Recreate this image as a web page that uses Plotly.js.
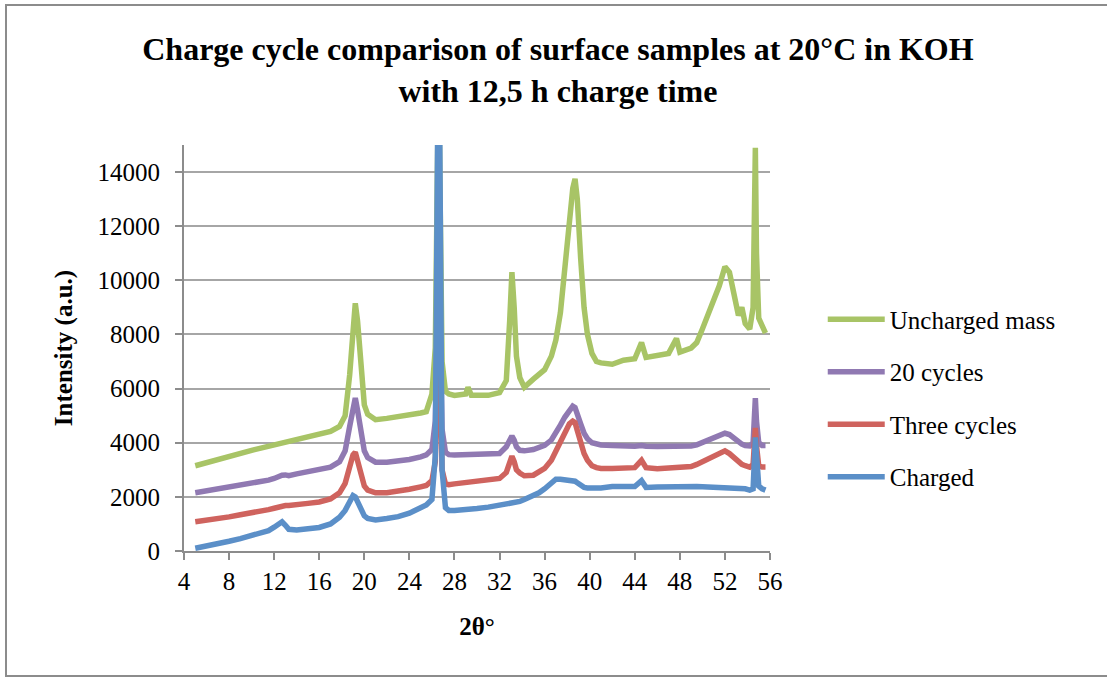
<!DOCTYPE html>
<html>
<head>
<meta charset="utf-8">
<script src="https://cdn.plot.ly/plotly-3.0.1.min.js"></script>
<style>
html,body{margin:0;padding:0;background:#fff;}
#wrap{position:relative;width:1107px;height:679px;overflow:hidden;}
#chart{width:1107px;height:679px;}
#frame{position:absolute;left:5px;top:4px;width:1110px;height:673px;border:2px solid #8c8c8c;pointer-events:none;box-sizing:border-box;}
</style>
</head>
<body>
<div id="wrap"><div id="chart"></div><div id="frame"></div></div>
<script>
// 2θ positions (degrees)
const twoTheta = [5,6,7,8,9,10,11,11.5,12,12.4,12.7,13,13.3,14,15,16,17,17.8,18.3,18.7,19.0,19.2,19.4,19.7,20.0,20.3,20.7,21,22,23,24,25,25.5,26.0,26.3,26.5,26.6,26.7,26.9,27.2,27.5,28,29,29.2,29.5,30,31,32,32.6,32.9,33.1,33.3,33.5,33.8,34.2,35,35.5,36,36.6,37,37.4,37.8,38.2,38.5,38.7,38.9,39.2,39.5,39.8,40.2,40.6,41,42,43,44,44.6,45,46,47,47.7,48,49,49.5,50,50.5,51,51.5,52,52.4,52.8,53.2,53.5,53.8,54.2,54.5,54.7,54.8,55.0,55.3,55.6];

const unchargedMass = [3150,3270,3400,3500,3620,3720,3820,3870,3900,3930,3960,3990,4010,4100,4200,4300,4420,4600,5000,6500,8400,9150,8500,6600,5400,5050,4900,4850,4900,4950,5000,5100,5150,5800,7500,14000,18000,14000,7000,5900,5800,5750,5800,6050,5750,5750,5750,5850,6300,8500,10300,9000,7200,6400,6050,6350,6500,6700,7200,7800,8800,10500,12300,13400,13750,13000,10800,9000,8000,7300,7000,6950,6900,7050,7100,7700,7150,7200,7300,7850,7350,7500,7700,8200,8700,9300,9800,10500,10300,9500,8700,9000,8400,8200,9000,14900,11000,8600,8300,8050];

const cycles20 = [2150,2220,2290,2340,2420,2480,2560,2620,2680,2760,2800,2810,2780,2850,2930,3000,3100,3300,3700,4600,5400,5650,5200,4300,3700,3450,3330,3280,3280,3320,3380,3480,3550,3750,4800,9000,12000,9000,4500,3650,3560,3550,3550,3580,3550,3560,3560,3600,3850,4150,4250,4100,3850,3720,3700,3750,3800,3900,4100,4350,4650,4950,5200,5350,5300,5100,4700,4350,4150,4000,3950,3920,3900,3880,3870,3900,3870,3860,3850,3870,3860,3880,3920,4000,4100,4200,4280,4350,4300,4150,4000,3950,3900,3880,4000,5650,4800,4000,3900,3900];

const threeCycles = [1080,1130,1200,1260,1340,1400,1480,1530,1580,1640,1660,1680,1680,1700,1760,1810,1920,2150,2500,3100,3550,3650,3300,2750,2400,2250,2180,2150,2150,2200,2280,2370,2420,2600,3300,7000,9000,7000,3000,2480,2450,2480,2520,2530,2550,2560,2600,2680,2900,3350,3500,3300,3000,2880,2780,2800,2900,3050,3350,3700,4100,4450,4700,4800,4750,4450,4000,3600,3350,3150,3080,3050,3050,3050,3080,3350,3080,3040,3050,3080,3080,3120,3200,3300,3420,3530,3620,3700,3600,3450,3280,3200,3150,3100,3200,4550,3900,3150,3100,3100];

const charged = [100,170,270,360,460,560,680,750,880,1020,1080,950,800,780,800,870,1000,1250,1500,1850,2050,2000,1800,1500,1300,1200,1170,1150,1200,1270,1400,1600,1700,1900,3500,15000,18000,15000,3000,1600,1500,1500,1520,1530,1540,1570,1620,1680,1720,1750,1770,1790,1810,1830,1900,2050,2150,2300,2550,2650,2650,2630,2620,2600,2580,2520,2400,2350,2330,2320,2300,2330,2380,2400,2380,2600,2350,2360,2380,2380,2370,2380,2380,2370,2360,2360,2350,2340,2340,2330,2320,2300,2300,2250,2300,4200,3300,2400,2300,2250];

const seriesNames = ["Uncharged mass","20 cycles","Three cycles","Charged"];
const seriesColors = ["#a8c466","#9079b2","#cf635e","#5b8fc8"];
const seriesData = [unchargedMass, cycles20, threeCycles, charged];

const yTicks = [0,2000,4000,6000,8000,10000,12000,14000];
const xTicks = [4,8,12,16,20,24,28,32,36,40,44,48,52,56];

const serif = "Liberation Serif";

const traces = seriesData.map((d,i)=>({
  x: twoTheta, y: d, type:"scatter", mode:"lines", name: seriesNames[i],
  legendgroup: "g"+i,
  line:{color: seriesColors[i], width:5.5, shape:"linear"},
  cliponaxis: true
}));

const layout = {
  width:1107, height:679,
  paper_bgcolor:"#ffffff", plot_bgcolor:"#ffffff",
  margin:{l:184, r:337, t:145, b:128},
  title:{
    text:"<b>Charge cycle comparison of surface samples at 20°C in KOH<br>with 12,5 h charge time</b>",
    font:{family:serif, size:32, color:"#000"},
    x:0.504, xanchor:"center", y:0.911, yref:"container", yanchor:"middle"
  },
  xaxis:{
    range:[4,56], tickvals:xTicks, ticktext:xTicks.map(String),
    showgrid:false, zeroline:false,
    showline:true, linecolor:"#8c8c8c", linewidth:2,
    ticks:"outside", ticklen:7, tickwidth:2, tickcolor:"#8c8c8c",
    tickfont:{family:serif, size:25, color:"#000"},
    title:{text:"<b>2θ°</b>", font:{family:serif, size:25, color:"#000"}, standoff:23},
    fixedrange:true
  },
  yaxis:{
    range:[0,15000], tickvals:yTicks, ticktext:yTicks.map(String),
    showgrid:true, gridcolor:"#a6a6a6", gridwidth:2,
    zeroline:false,
    showline:true, linecolor:"#8c8c8c", linewidth:2,
    ticks:"outside", ticklen:7, tickwidth:2, tickcolor:"#8c8c8c",
    tickfont:{family:serif, size:25, color:"#000"},
    ticklabelstandoff:10,
    title:{text:"<b>Intensity (a.u.)</b>", font:{family:serif, size:25, color:"#000"}, standoff:18},
    fixedrange:true
  },
  showlegend:true,
  legend:{
    x:1.09, xanchor:"left", y:0.377, yanchor:"middle",
    font:{family:serif, size:25, color:"#000"},
    traceorder:"grouped", tracegroupgap:17,
    itemwidth:57, bgcolor:"rgba(0,0,0,0)"
  }
};

Plotly.newPlot("chart", traces, layout, {staticPlot:true, displayModeBar:false});
</script>
</body>
</html>
